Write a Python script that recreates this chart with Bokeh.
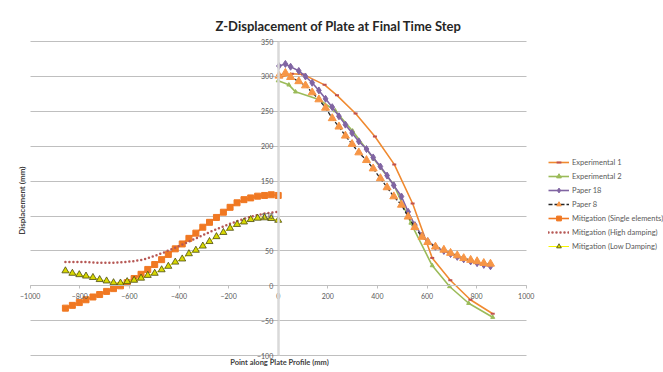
from bokeh.plotting import figure
from bokeh.models import Range1d, FixedTicker, Legend, LegendItem, Label
from bokeh.embed import file_html
from bokeh.resources import INLINE
import math

# ---------------- data ----------------
exp1_x = [10, 55, 100, 187, 237, 312, 390, 468, 542, 621, 694, 775, 865]
exp1_y = [299, 304, 303, 288, 273, 247, 214, 174, 118, 40, 8, -20, -40]

exp2_x = [0, 43, 70, 164, 230, 300, 385, 466, 535, 621, 691, 768, 865]
exp2_y = [294, 288, 278, 267, 251, 222, 182, 145, 90, 29, -1, -25, -45]

paper_x = [3, 29, 50, 83, 110, 137, 164, 191, 218, 245, 271, 298, 325, 356, 383, 412,
           439, 466, 497, 524, 551, 580, 603, 634, 668, 695, 722, 748, 776, 802, 829, 856]
paper18_y = [315, 318, 314, 308, 300, 291, 280, 268, 256, 243, 231, 219, 207, 196, 184, 171,
             158, 144, 128, 106, 87, 72, 64, 56, 50, 45.5, 41.5, 38, 35, 32.5, 30, 28]
paper8_y = [301, 305, 299, 293, 287, 277, 267, 255, 240, 228, 215, 203, 191, 180, 168, 154,
            141, 128, 116, 99, 84, 70, 62.5, 56, 51.5, 47, 43.5, 39.5, 37, 35, 32.5, 31.5]

mit_x = [-858, -830, -802, -775, -747, -720, -692, -664, -636, -609, -581, -553, -526, -498,
         -470, -443, -415, -387, -360, -332, -304, -277, -249, -221, -194, -166, -138, -111,
         -83, -55, -28, 0]
mit_single = [-32, -28, -24, -20, -16, -12.5, -8, -4, 0, 4.5, 10.5, 16.5, 23.5, 30.5, 37.5, 45,
              53, 60, 68, 75.5, 84, 91, 98, 105.5, 112.5, 119, 123.5, 126, 128.5, 129.5, 130.5, 129.5]
mit_high = [34, 34, 34, 34, 33.5, 33, 33, 33, 33.5, 34.5, 35.5, 37, 39.5, 43, 46.5, 50.5,
            54.5, 59, 63.5, 68, 72.5, 77, 81, 85, 89, 92.5, 96, 99, 101.5, 103.5, 105, 106]
mit_low = [21.5, 18, 16, 14, 12, 9, 7, 4.5, 4, 6, 8, 11, 15, 18, 23, 28, 34, 38.5, 46, 51,
           57, 63.5, 70.5, 76.5, 82.5, 88, 91.5, 95, 97, 97.5, 96.5, 94]

x_ticks = [-1000, -800, -600, -400, -200, 0, 200, 400, 600, 800, 1000]
y_ticks = [-100, -50, 0, 50, 100, 150, 200, 250, 300, 350]

title_text = "Z-Displacement of Plate at Final Time Step"
x_title = "Point along Plate Profile (mm)"
y_title = "Displacement (mm)"
labels = ["Experimental 1", "Experimental 2", "Paper 18", "Paper 8",
          "Mitigation (Single elements)", "Mitigation (High damping)", "Mitigation (Low Damping)"]

# ---------------- geometry (frame covers whole canvas) ----------------
W, H = 663, 372
PL, PR, PT, PB = 29.7, 137.3, 41.1, 16.9          # plot-area margins in px
xs = (W - PL - PR) / (x_ticks[-1] - x_ticks[0])
ys = (H - PT - PB) / (y_ticks[-1] - y_ticks[0])
x0 = x_ticks[0] - PL / xs
x1 = x0 + W / xs
y0 = y_ticks[0] - PB / ys
y1 = y0 + H / ys

p = figure(width=W, height=H, output_backend="svg", toolbar_location=None,
           x_range=Range1d(x0, x1), y_range=Range1d(y0, y1),
           min_border=0, min_border_left=0, min_border_right=0,
           min_border_top=0, min_border_bottom=0)
p.outline_line_color = None
p.background_fill_color = "white"
p.border_fill_color = "white"

# horizontal gridlines limited to the plot area (-1000 .. 1000)
p.xgrid.visible = False
grid = p.ygrid[0]
if "cross_bounds" in grid.properties():
    grid.ticker = FixedTicker(ticks=y_ticks)
    grid.bounds = (y_ticks[0], y_ticks[-1])
    grid.cross_bounds = (x_ticks[0], x_ticks[-1])
    grid.grid_line_color = "#BFBFBF"
    grid.grid_line_width = 1
else:
    grid.visible = False
    p.segment(x0=[x_ticks[0]] * len(y_ticks), y0=y_ticks, x1=[x_ticks[-1]] * len(y_ticks), y1=y_ticks,
              line_color="#BFBFBF", line_width=1)

FONT = "Lato"
p.xaxis.ticker = FixedTicker(ticks=x_ticks)
p.yaxis.ticker = FixedTicker(ticks=y_ticks)
p.xaxis.fixed_location = 0
p.yaxis.fixed_location = 0
p.xaxis.bounds = (x_ticks[0], x_ticks[-1])
p.yaxis.bounds = (y_ticks[0], y_ticks[-1])
for ax in (p.xaxis, p.yaxis):
    ax.major_label_text_font = FONT
    ax.major_label_text_font_size = "7px"
    ax.major_label_text_color = "#595959"
    ax.minor_tick_line_color = None
    ax.major_tick_in = 0
    ax.major_tick_out = 3
    ax.major_tick_line_color = "#BFBFBF"
p.xaxis.axis_line_color = "#BFBFBF"
p.xaxis.axis_line_width = 1
p.xaxis.major_label_standoff = 4
p.yaxis.axis_line_color = "#D9D9D9"
p.yaxis.axis_line_width = 2.5
p.yaxis.major_label_standoff = 2

# ---------------- series ----------------
r1 = p.line(exp1_x, exp1_y, line_color="#F08A30", line_width=1.6)
m1 = p.scatter(exp1_x, exp1_y, marker="dash", size=4, line_color="#C0504D", line_width=2)

r2 = p.line(exp2_x, exp2_y, line_color="#9BBB59", line_width=1.6)
m2 = p.scatter(exp2_x, exp2_y, marker="triangle", size=4, fill_color="#9BBB59", line_color="#9BBB59")

r3 = p.line(paper_x, paper18_y, line_color="#8064A2", line_width=1.6)
m3 = p.scatter(paper_x, paper18_y, marker="diamond", size=7, fill_color="#8064A2", line_color="#8064A2")

r4 = p.line(paper_x, paper8_y, line_color="#262626", line_width=1.3, line_dash="4 2")
m4 = p.scatter(paper_x, paper8_y, marker="triangle", size=8, fill_color="#F79646", line_color="#F79646")

r5 = p.line(mit_x, mit_single, line_color="#F07822", line_width=1.6)
m5 = p.scatter(mit_x, mit_single, marker="square", size=6, fill_color="#F07822", line_color="#F07822")

r6 = p.line(mit_x, mit_high, line_color="#B65855", line_width=2.5, line_dash="0 4", line_cap="round")

r7 = p.line(mit_x, mit_low, line_color="#F5F500", line_width=1)
m7 = p.scatter(mit_x, mit_low, marker="triangle", size=7, fill_color="#D8D800", line_color="#4A4A10", line_width=0.8)

legend = Legend(items=[
    LegendItem(label=labels[0], renderers=[r1, m1]),
    LegendItem(label=labels[1], renderers=[r2, m2]),
    LegendItem(label=labels[2], renderers=[r3, m3]),
    LegendItem(label=labels[3], renderers=[r4, m4]),
    LegendItem(label=labels[4], renderers=[r5, m5]),
    LegendItem(label=labels[5], renderers=[r6]),
    LegendItem(label=labels[6], renderers=[r7, m7]),
], location=(548, 120), padding=0, margin=0, spacing=2, glyph_width=21, glyph_height=12,
   label_height=12, label_standoff=3, border_line_color=None, background_fill_alpha=0,
   label_text_font=FONT, label_text_font_size="7.5px", label_text_color="#595959")
p.add_layout(legend)

# ---------------- titles ----------------
p.add_layout(Label(x=243, y=373, text=title_text, text_align="center", text_baseline="middle",
                   text_font=FONT, text_font_size="13px", text_font_style="bold", text_color="#262626"))
p.add_layout(Label(x=5, y=-110, text=x_title, text_align="center", text_baseline="middle",
                   text_font=FONT, text_font_size="7.5px", text_font_style="bold", text_color="#404040"))
p.add_layout(Label(x=-1035, y=122, text=y_title, text_align="center", text_baseline="middle",
                   angle=math.pi / 2, text_font=FONT, text_font_size="8px", text_font_style="bold",
                   text_color="#404040"))

open("out.html", "w").write(file_html(p, INLINE))
